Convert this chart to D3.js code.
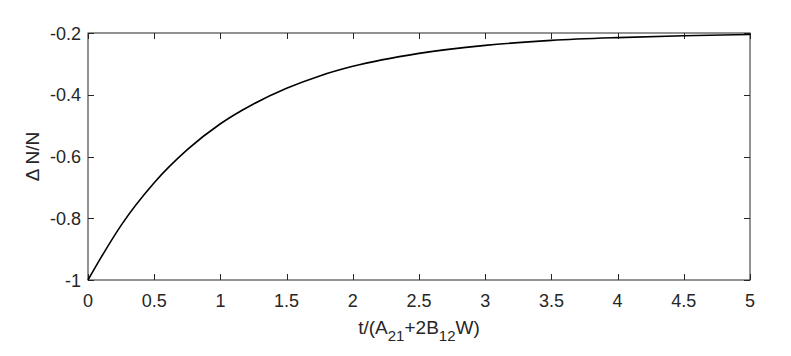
<!DOCTYPE html>
<html><head><meta charset="utf-8">
<script src="https://cdn.jsdelivr.net/npm/d3@7"></script>
<style>body{margin:0;background:#fff}svg{display:block}text{font-family:"Liberation Sans",Arial,Helvetica,sans-serif;fill:#262626}</style>
</head><body><svg id="c" width="791" height="356"></svg>
<script>
const tValues = [0,0.1,0.25,0.5,0.75,1,1.25,1.5,1.75,2,2.5,3,3.5,4,4.5,5];
const dnValues = [-1,-0.926,-0.823,-0.685,-0.578,-0.494,-0.43,-0.379,-0.339,-0.308,-0.266,-0.24,-0.224,-0.215,-0.209,-0.205];
const xTicks = [0,0.5,1,1.5,2,2.5,3,3.5,4,4.5,5];
const yTicks = [-1,-0.8,-0.6,-0.4,-0.2];

const svg = d3.select("#c");
const L=88,R=750,T=33,B=280;
const x = d3.scaleLinear().domain([0,5]).range([L,R]);
const y = d3.scaleLinear().domain([-1,-0.2]).range([B,T]);
const axisColor="#262626";
const tl=6;
svg.append("rect").attr("x",L).attr("y",T).attr("width",R-L).attr("height",B-T)
  .attr("fill","none").attr("stroke",axisColor).attr("stroke-width",1);
xTicks.forEach(v=>{
  const px=Math.round(x(v))+0.5;
  svg.append("line").attr("x1",px).attr("x2",px).attr("y1",B).attr("y2",B-tl).attr("stroke",axisColor);
  svg.append("line").attr("x1",px).attr("x2",px).attr("y1",T).attr("y2",T+tl).attr("stroke",axisColor);
  svg.append("text").attr("x",x(v)).attr("y",B+27).attr("text-anchor","middle").attr("font-size",18).text(String(v));
});
yTicks.forEach(v=>{
  const py=Math.round(y(v))+0.5;
  svg.append("line").attr("x1",L).attr("x2",L+tl).attr("y1",py).attr("y2",py).attr("stroke",axisColor);
  svg.append("line").attr("x1",R).attr("x2",R-tl).attr("y1",py).attr("y2",py).attr("stroke",axisColor);
  svg.append("text").attr("x",L-7).attr("y",y(v)+6.5).attr("text-anchor","end").attr("font-size",18).text(String(v));
});
svg.append("path").datum(tValues.map((t,i)=>[t,dnValues[i]]))
  .attr("d",d3.line().x(d=>x(d[0])).y(d=>y(d[1])).curve(d3.curveMonotoneX))
  .attr("fill","none").attr("stroke","#000").attr("stroke-width",1.6);
const xl = svg.append("text").attr("x",(L+R)/2).attr("y",334).attr("text-anchor","middle").attr("font-size",19);
xl.append("tspan").text("t/(A");
xl.append("tspan").attr("font-size",15).attr("dy",7).text("21");
xl.append("tspan").attr("dy",-7).text("+2B");
xl.append("tspan").attr("font-size",15).attr("dy",7).text("12");
xl.append("tspan").attr("dy",-7).text("W)");
svg.append("text").attr("transform",`translate(39,${(T+B)/2}) rotate(-90)`).attr("text-anchor","middle").attr("font-size",19).text("Δ N/N");
</script></body></html>
